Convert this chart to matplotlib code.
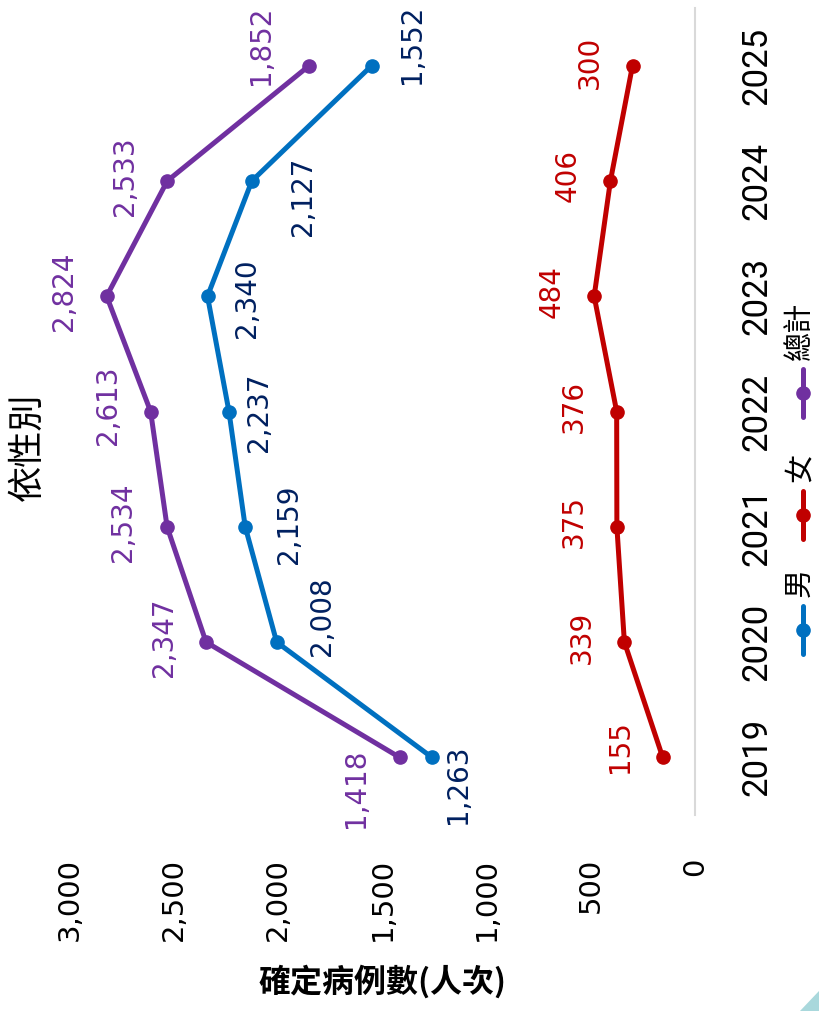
import matplotlib
matplotlib.use("Agg")
import matplotlib.pyplot as plt
from matplotlib.lines import Line2D
from matplotlib.patches import Polygon

# -------------------------------
# DATA
# -------------------------------
years = [2019, 2020, 2021, 2022, 2023, 2024, 2025]
male = [1263, 2008, 2159, 2237, 2340, 2127, 1552]
female = [155, 339, 375, 376, 484, 406, 300]
total = [1418, 2347, 2534, 2613, 2824, 2533, 1852]
value_ticks = [0, 500, 1000, 1500, 2000, 2500, 3000]

# label offsets in pixels (dx right, dy up) -- chart is drawn turned 90 deg
male_off = [(26, -27), (45, 26), (44, 3), (30, -1), (39, -2), (51, -15), (40, 21)]
female_off = [(-43, 11), (-43, 5), (-43, 5), (-43, 5), (-43, 5), (-43, 5), (-43, 3)]
total_off = [(-44, -31), (-42, 5), (-44, 5), (-43, 6), (-43, 5), (-42, 5), (-48, 20)]

C_MALE, C_MALE_TXT = "#0070C0", "#002060"
C_FEMALE = "#C00000"
C_TOTAL = "#7030A0"
CJK = ["Noto Sans CJK TC", "DejaVu Sans"]
NARROW = ["Roboto", "DejaVu Sans"]

plt.rcParams["font.family"] = ["DejaVu Sans"]

W, H = 819, 1011
fig = plt.figure(figsize=(W / 100, H / 100), dpi=100)
ax = fig.add_axes([70 / W, 1 - 815 / H, (695 - 70) / W, (815 - 8) / H])

series = [
    (male, C_MALE, C_MALE_TXT, male_off),
    (female, C_FEMALE, C_FEMALE, female_off),
    (total, C_TOTAL, C_TOTAL, total_off),
]
for vals, col, tcol, offs in series:
    ax.plot(vals, years, color=col, lw=3.6, marker="o", ms=9.5, solid_capstyle="round")
    for v, y, (dx, dy) in zip(vals, years, offs):
        ax.annotate(f"{v:,}", (v, y), xytext=(dx, dy), textcoords="offset pixels",
                    rotation=90, ha="center", va="center", fontsize=20, color=tcol,
                    annotation_clip=False)

ax.set_xlim(3000, 0)
ax.set_ylim(2018.5, 2025.5)

ax.set_xticks(value_ticks)
ax.set_xticklabels([f"{t:,}" for t in value_ticks], rotation=90, fontsize=21)
ax.tick_params(axis="x", length=0, pad=31)

ax.yaxis.tick_right()
ax.set_yticks(years)
ax.set_yticklabels([str(y) for y in years], rotation=90, fontsize=25, family=NARROW)
for lbl in ax.get_yticklabels():
    lbl.set_va("center")
ax.tick_params(axis="y", length=0, pad=33)

for s in ["top", "bottom", "left"]:
    ax.spines[s].set_visible(False)
ax.spines["right"].set_color("#D9D9D9")
ax.spines["right"].set_linewidth(1.5)

# title and axis label
fig.text(28 / W, 1 - 447 / H, "依性別", rotation=90, ha="center", va="center",
         fontsize=26, family=CJK)
fig.text(383 / W, 1 - 982 / H, "確定病例數(人次)", ha="center", va="center",
         fontsize=23, fontweight="bold", family=CJK)

# legend (turned, drawn by hand)
legend_items = [("男", C_MALE, 630), ("女", C_FEMALE, 515), ("總計", C_TOTAL, 393)]
for name, col, my in legend_items:
    fig.add_artist(Line2D([803 / W, 803 / W], [1 - (my + 24) / H, 1 - (my - 24) / H],
                          color=col, lw=3.6, solid_capstyle="round"))
    fig.add_artist(Line2D([803 / W], [1 - my / H], color=col, marker="o", ms=9.5))
    fig.text(800 / W, 1 - (my - 33) / H, name, rotation=90, rotation_mode="anchor",
             ha="left", va="center", fontsize=21, family=CJK)

# corner decoration
fig.add_artist(Polygon([(800 / W, 0), (1, 0), (1, 20 / H)], closed=True,
                       transform=fig.transFigure, color="#A9D8DC", lw=0))

fig.savefig("out.png", dpi=100)
